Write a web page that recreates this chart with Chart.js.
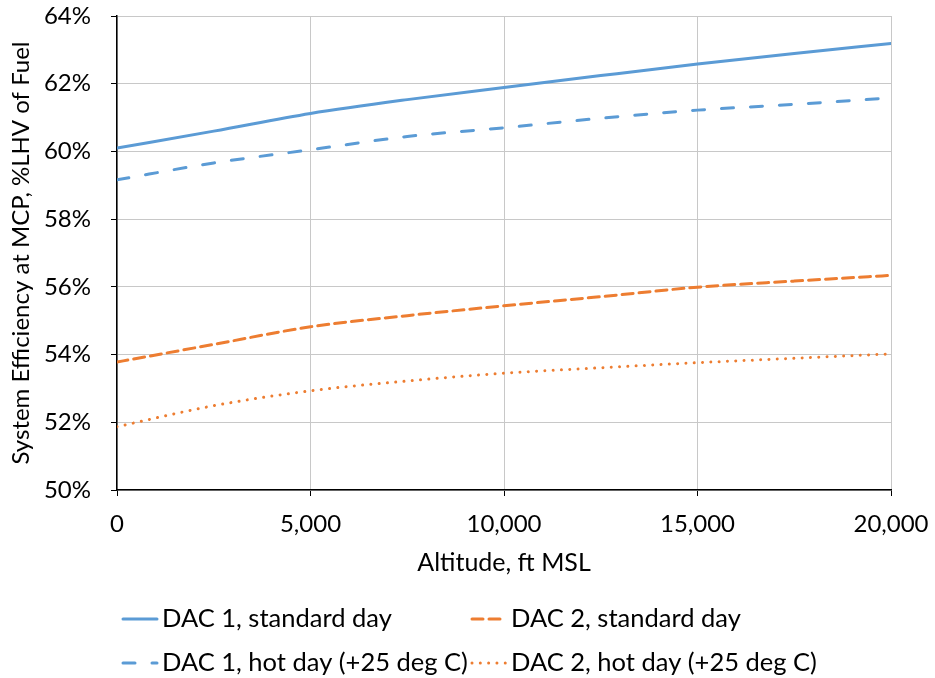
<!DOCTYPE html>
<html>
<head>
<meta charset="utf-8">
<script src="https://cdn.jsdelivr.net/npm/chart.js@4/dist/chart.umd.min.js"></script>
<style>
  body { margin: 0; background: #fff; }
</style>
</head>
<body>
<canvas id="effChart" width="935" height="678"></canvas>
<script>
// data block
const altitude = [0, 2500, 5000, 7500, 10000, 12500, 15000, 17500, 20000];
const dac1Standard = [60.10, 60.60, 61.12, 61.53, 61.89, 62.24, 62.58, 62.89, 63.19];
const dac2Standard = [53.78, 54.30, 54.82, 55.15, 55.44, 55.71, 55.99, 56.17, 56.34];
const dac1Hot = [59.16, 59.66, 60.05, 60.44, 60.70, 60.98, 61.22, 61.39, 61.58];
const dac2Hot = [51.87, 52.49, 52.93, 53.22, 53.45, 53.61, 53.76, 53.89, 54.02];

const seriesLabels = [
  "DAC 1, standard day",
  "DAC 2, standard day",
  "DAC 1, hot day (+25 deg C)",
  "DAC 2, hot day (+25 deg C)",
];
const yTicks = [50, 52, 54, 56, 58, 60, 62, 64];
const xTicks = [0, 5000, 10000, 15000, 20000];

const BLUE = "#5B9BD5";
const ORANGE = "#ED7D31";
const FONT = "Lato";

function toPoints(values) {
  return altitude.map((a, i) => ({ x: a, y: values[i] }));
}

// setup block
const data = {
  datasets: [
    {
      label: seriesLabels[0],
      data: toPoints(dac1Standard),
      borderColor: BLUE,
      borderWidth: 3,
      borderCapStyle: "round",
      borderDash: [],
    },
    {
      label: seriesLabels[1],
      data: toPoints(dac2Standard),
      borderColor: ORANGE,
      borderWidth: 3,
      borderCapStyle: "round",
      borderDash: [11, 6],
    },
    {
      label: seriesLabels[2],
      data: toPoints(dac1Hot),
      borderColor: BLUE,
      borderWidth: 3,
      borderCapStyle: "round",
      borderDash: [12, 17],
    },
    {
      label: seriesLabels[3],
      data: toPoints(dac2Hot),
      borderColor: ORANGE,
      borderWidth: 3,
      borderCapStyle: "round",
      borderDash: [0.01, 8.3],
    },
  ],
};

// legend laid out in two columns like the original
const twoColumnLegend = {
  id: "twoColumnLegend",
  afterDraw(chart) {
    const ctx = chart.ctx;
    const cols = [122, 471];
    const rows = [619, 663];
    chart.data.datasets.forEach((ds, i) => {
      const x = cols[i % 2];
      const y = rows[Math.floor(i / 2)];
      ctx.save();
      ctx.strokeStyle = ds.borderColor;
      ctx.lineWidth = ds.borderWidth;
      ctx.lineCap = ds.borderCapStyle;
      ctx.setLineDash(ds.borderDash || []);
      ctx.beginPath();
      ctx.moveTo(x + 1, y);
      ctx.lineTo(x + 35, y);
      ctx.stroke();
      ctx.setLineDash([]);
      ctx.fillStyle = "#000";
      ctx.font = "25.5px " + FONT;
      ctx.textBaseline = "middle";
      ctx.fillText(ds.label, x + 40, y);
      ctx.restore();
    });
  },
};

// config block
const config = {
  type: "line",
  data,
  options: {
    responsive: false,
    animation: false,
    layout: { padding: { top: 0, right: 0, bottom: 98, left: 0 } },
    elements: {
      point: { radius: 0 },
      line: { cubicInterpolationMode: "monotone", fill: false },
    },
    plugins: {
      legend: { display: false },
      tooltip: { enabled: false },
    },
    scales: {
      x: {
        type: "linear",
        min: 0,
        max: 20000,
        afterBuildTicks: (scale) => {
          scale.ticks = xTicks.map((v) => ({ value: v }));
        },
        afterFit: (scale) => {
          scale.height = 90;
          scale.paddingLeft = 0;
          scale.paddingRight = 44;
        },
        ticks: {
          color: "#000",
          font: { family: FONT, size: 24 },
          padding: 14,
          maxRotation: 0,
          callback: (v) => Number(v).toLocaleString("en-US"),
        },
        grid: { color: "#C8C8C8", tickColor: "#000", tickLength: 6 },
        border: { color: "#000", width: 1.5 },
        title: {
          display: true,
          text: "Altitude, ft MSL",
          color: "#000",
          font: { family: FONT, size: 25 },
          padding: { top: 0, bottom: 2 },
        },
      },
      y: {
        min: 50,
        max: 64,
        afterBuildTicks: (scale) => {
          scale.ticks = yTicks.map((v) => ({ value: v }));
        },
        afterFit: (scale) => {
          scale.width = 117;
          scale.paddingTop = 16;
          scale.paddingBottom = 0;
        },
        ticks: {
          color: "#000",
          font: { family: FONT, size: 24 },
          padding: 20,
          callback: (v) => v + "%",
        },
        grid: { color: "#C8C8C8", tickColor: "#000", tickLength: 6 },
        border: { color: "#000", width: 1.5 },
        title: {
          display: true,
          text: "System Efficiency at MCP, %LHV of Fuel",
          color: "#000",
          font: { family: FONT, size: 24 },
          padding: { top: 7, bottom: 0 },
        },
      },
    },
  },
  plugins: [twoColumnLegend],
};

// render / init block
const myChart = new Chart(document.getElementById("effChart"), config);
</script>
</body>
</html>
